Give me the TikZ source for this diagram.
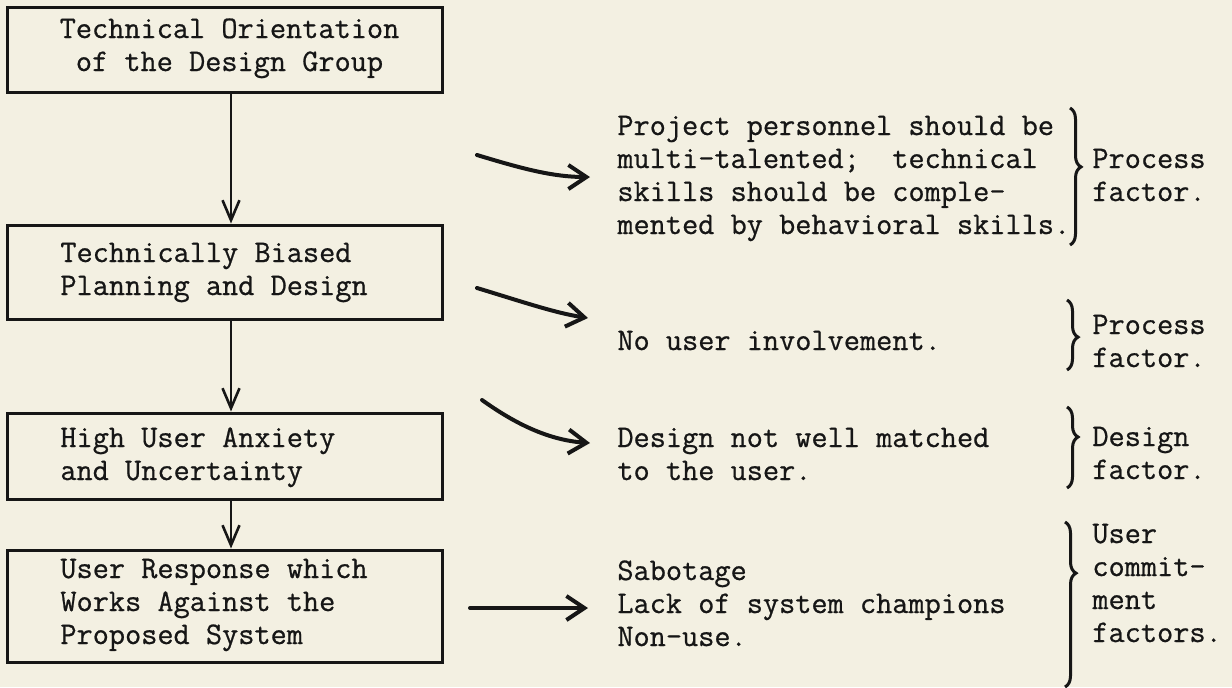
\documentclass[tikz,border=0pt]{standalone}
\usepackage{fontspec}
\newfontfamily\tw{Latin Modern Mono}[FakeBold=0.7]
\usetikzlibrary{arrows.meta,decorations.pathreplacing}
\definecolor{paper}{RGB}{243,240,226}
\definecolor{ink}{RGB}{22,22,22}
% stacked lines of typewriter text, first baseline = node baseline
\newcommand\txtlines[2][l]{\begin{tabular}[t]{@{}#1@{}}#2\end{tabular}}
\begin{document}
\frenchspacing
\begin{tikzpicture}[x=0.5pt,y=-0.5pt,
  stage/.style={draw=ink, line width=1.5pt, minimum width=217.5pt, inner sep=0pt},
  words/.style={text=ink, font=\tw\fontsize{15.7}{16.5}\selectfont, inner sep=0pt, anchor=base west},
  flow/.style={draw=ink, line width=1.3pt, -{Straight Barb[length=10pt,width=8.5pt]}},
  lead/.style={draw=ink, line width=2pt, line cap=round, -{Straight Barb[length=9pt,width=12pt]}},
  grp/.style={draw=ink, line width=1.5pt, decorate, decoration={brace, amplitude=5.5pt, aspect=#1}},
  grp/.default=0.5]

% page
\fill[paper] (0,0) rectangle (1232,687);
\useasboundingbox (0,0) rectangle (1232,687);

% chain of stages
\node[stage, minimum height=42.5pt] (b1) at (224.5,49.5) {};
\node[stage, minimum height=47pt]   (b2) at (224.5,272) {};
\node[stage, minimum height=43pt]   (b3) at (224.5,456) {};
\node[stage, minimum height=56pt]   (b4) at (224.5,606) {};

\node[words, anchor=base] (t1) at (229.5,38) {\txtlines[c]{Technical Orientation\\of the Design Group}};
\node[words] (t2) at (60,262) {\txtlines{Technically Biased\\Planning and Design}};
\node[words] (t3) at (60,447) {\txtlines{High User Anxiety\\and Uncertainty}};
\node[words] (t4) at (60,578) {\txtlines{User Response which\\Works Against the\\Proposed System}};

\draw[flow] ([xshift=3.25pt]b1.south) -- ([xshift=3.25pt]b2.north);
\draw[flow] ([xshift=3.25pt]b2.south) -- ([xshift=3.25pt]b3.north);
\draw[flow] ([xshift=3.25pt]b3.south) -- ([xshift=3.25pt]b4.north);

% consequences
\node[words] (r1) at (617,135) {\txtlines{Project personnel should be\\multi-talented;\ \ technical\\skills should be comple-\\mented by behavioral skills.}};
\node[words] (r2) at (617,350) {No user involvement.};
\node[words] (r3) at (617,447) {\txtlines{Design not well matched\\to the user.}};
\node[words] (r4) at (617,580) {\txtlines{Sabotage\\Lack of system champions\\Non-use.}};

% hand-drawn leaders
\coordinate (a1s) at (477,155); \coordinate (a1e) at (590,177);
\coordinate (a2s) at (477,288); \coordinate (a2e) at (588,318);
\coordinate (a3s) at (482,400); \coordinate (a3e) at (590,443);
\coordinate (a4s) at (470,608); \coordinate (a4e) at (588,608);
\draw[lead] (a1s) .. controls (520,168) and (552,177) .. (a1e);
\draw[lead] (a2s) .. controls (520,301) and (555,313) .. (a2e);
\draw[lead] (a3s) .. controls (510,420) and (545,440) .. (a3e);
\draw[lead] (a4s) -- (a4e);

% factor groups
\coordinate (g1a) at (1070,108); \coordinate (g1b) at (1070,245);
\coordinate (g2a) at (1067,300); \coordinate (g2b) at (1067,370);
\coordinate (g3a) at (1067,407); \coordinate (g3b) at (1067,488);
\coordinate (g4a) at (1065,522); \coordinate (g4b) at (1065,687);
\draw[grp=0.43] (g1a) -- (g1b);
\draw[grp=0.53] (g2a) -- (g2b);
\draw[grp=0.37] (g3a) -- (g3b);
\draw[grp=0.31] (g4a) -- (g4b);

\node[words] (l1) at (1092,168) {\txtlines{Process\\factor.}};
\node[words] (l2) at (1092,334) {\txtlines{Process\\factor.}};
\node[words] (l3) at (1092,446) {\txtlines{Design\\factor.}};
\node[words] (l4) at (1092,543) {\txtlines{User\\commit-\\ment\\factors.}};
\end{tikzpicture}
\end{document}
